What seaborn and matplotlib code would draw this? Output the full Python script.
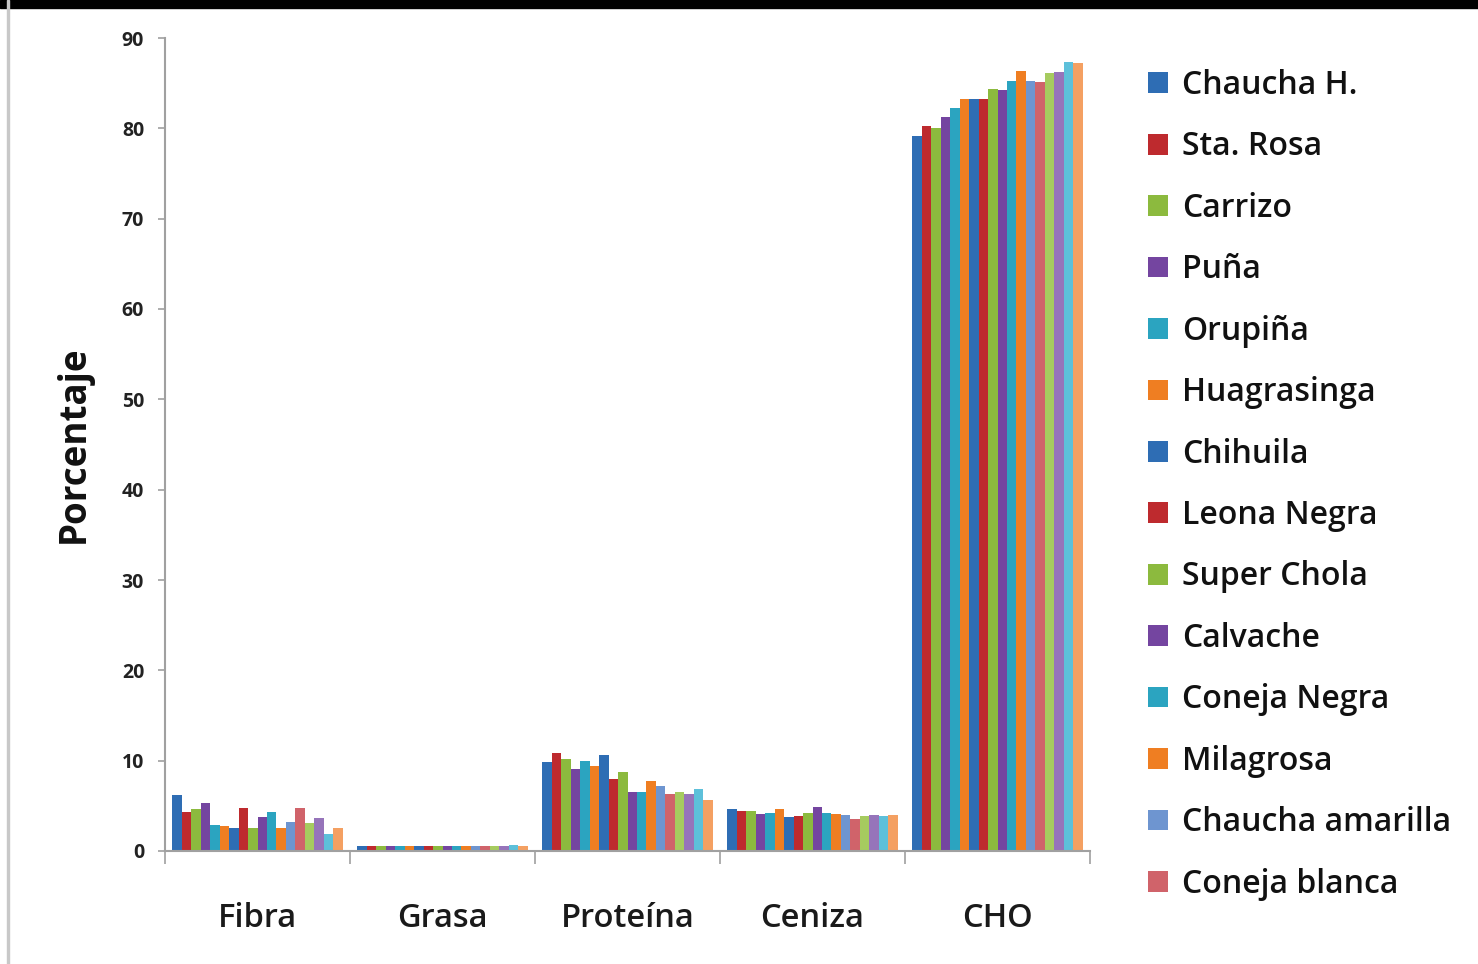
import matplotlib
matplotlib.use("Agg")
import matplotlib.pyplot as plt
import seaborn as sns
import pandas as pd
from matplotlib.patches import Rectangle

categories = ["Fibra", "Grasa", "Proteína", "Ceniza", "CHO"]
varieties = ["Chaucha H.", "Sta. Rosa", "Carrizo", "Puña", "Orupiña", "Huagrasinga",
             "Chihuila", "Leona Negra", "Super Chola", "Calvache", "Coneja Negra",
             "Milagrosa", "Chaucha amarilla", "Coneja blanca",
             "Variedad 15", "Variedad 16", "Variedad 17", "Variedad 18"]
legend_count = 14

fibra = [6.2, 4.3, 4.6, 5.3, 2.9, 2.8, 2.5, 4.8, 2.5, 3.8, 4.3, 2.6, 3.2, 4.8, 3.1, 3.7, 1.9, 2.5]
grasa = [0.6, 0.5, 0.5, 0.6, 0.5, 0.5, 0.6, 0.5, 0.5, 0.5, 0.6, 0.5, 0.5, 0.5, 0.5, 0.6, 0.7, 0.5]
proteina = [9.9, 10.8, 10.2, 9.1, 10.0, 9.4, 10.6, 8.0, 8.7, 6.5, 6.5, 7.7, 7.2, 6.3, 6.5, 6.3, 6.9, 5.7]
ceniza = [4.6, 4.4, 4.4, 4.1, 4.2, 4.6, 3.8, 3.9, 4.2, 4.9, 4.2, 4.1, 4.0, 3.5, 3.9, 4.0, 3.9, 4.0]
cho = [79.2, 80.3, 80.0, 81.3, 82.3, 83.3, 83.2, 83.2, 84.3, 84.2, 85.2, 86.3, 85.2, 85.1, 86.1, 86.2, 87.3, 87.2]

colors = ["#2E6DB4", "#BE2A2E", "#8CBA3E", "#7445A0", "#2BA4C0", "#EF7E22",
          "#2E6DB4", "#BE2A2E", "#8CBA3E", "#7445A0", "#2BA4C0", "#EF7E22",
          "#6E95D0", "#D0636A", "#A6CB5F", "#9674BA", "#5DC0DA", "#F4A062"]

series = [fibra, grasa, proteina, ceniza, cho]
rows = []
for cat, vals in zip(categories, series):
    for v, val in zip(varieties, vals):
        rows.append({"Componente": cat, "Variedad": v, "Porcentaje": val})
df = pd.DataFrame(rows)

sns.set_theme(style="white")
plt.rcParams["font.family"] = ["Open Sans", "DejaVu Sans"]

fig = plt.figure(figsize=(14.78, 9.64), dpi=100)
ax = fig.add_axes([165/1478, 1 - 851/964, (1090-165)/1478, (851-38)/964])

sns.barplot(data=df, x="Componente", y="Porcentaje", hue="Variedad",
            order=categories, hue_order=varieties, palette=colors,
            width=0.92, gap=0, errorbar=None, ax=ax, saturation=1,
            edgecolor="none", linewidth=0)

ax.set_ylim(0, 90)
ax.set_xlim(-0.5, 4.5)
ax.set_yticks(range(0, 91, 10))
ax.set_yticklabels([str(t) for t in range(0, 91, 10)], fontsize=14, fontweight="bold", color="#222222")
ax.set_xticks(range(len(categories)))
ax.set_xticklabels(categories, fontsize=23.5, fontweight="semibold", color="#1a1a1a")
ax.tick_params(axis="x", length=0, pad=37)
ax.tick_params(axis="y", length=5, color="#A0A0A0", width=1.2, pad=10, direction="out", left=True)
ax.set_xticks([-0.5 + i for i in range(6)], minor=True)
ax.tick_params(axis="x", which="minor", length=9, color="#A0A0A0", width=1.2, bottom=True)

ax.set_xlabel("")
ax.set_ylabel("Porcentaje", fontsize=26.5, fontweight="bold", color="#111111")
ax.yaxis.set_label_coords(-0.078, 0.5)

for s in ["top", "right"]:
    ax.spines[s].set_visible(False)
for s in ["left", "bottom"]:
    ax.spines[s].set_color("#A0A0A0")
    ax.spines[s].set_linewidth(1.5)

handles, labels = ax.get_legend_handles_labels()
leg = ax.legend(handles[:legend_count], labels[:legend_count],
                loc="upper left", bbox_to_anchor=(1148/1478, 1 - 69/964),
                bbox_transform=fig.transFigure, frameon=False,
                prop={"family": ["Open Sans", "DejaVu Sans"], "size": 23, "weight": "semibold"},
                labelspacing=0.89, handlelength=0.62, handleheight=0.62,
                handletextpad=0.45, borderaxespad=0, borderpad=0)
for t in leg.get_texts():
    t.set_color("#111111")

fig.patches.append(Rectangle((0, 1 - 8/964), 1, 8/964, transform=fig.transFigure,
                             color="black", zorder=10))
fig.patches.append(Rectangle((7/1478, 0), 2/1478, 1, transform=fig.transFigure,
                             color="#C8C8C8", zorder=10))

fig.savefig("out.png", dpi=100)
